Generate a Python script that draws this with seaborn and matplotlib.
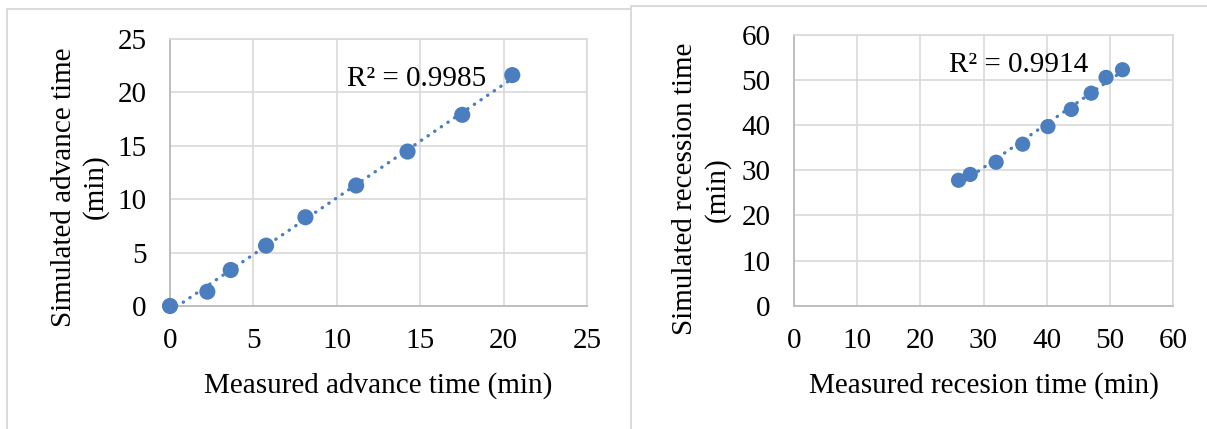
import numpy as np
import matplotlib
matplotlib.use("Agg")
import matplotlib.pyplot as plt
from matplotlib.lines import Line2D
import seaborn as sns

# Advance phase (min)
advance_measured = [0.0, 2.24, 3.64, 5.76, 8.12, 11.16, 14.24, 17.52, 20.52]
advance_simulated = [0.0, 1.34, 3.37, 5.65, 8.31, 11.28, 14.46, 17.90, 21.62]
advance_r2_label = "R² = 0.9985"
advance_ticks = [0, 5, 10, 15, 20, 25]

# Recession phase (min)
recession_measured = [26.05, 27.9, 32.0, 36.2, 40.2, 43.9, 47.05, 49.4, 52.0]
recession_simulated = [27.8, 29.1, 31.8, 35.8, 39.7, 43.5, 47.1, 50.6, 52.3]
recession_r2_label = "R² = 0.9914"
recession_ticks = [0, 10, 20, 30, 40, 50, 60]

sns.set_theme(style="white")
plt.rcParams["font.family"] = ["Liberation Serif", "DejaVu Serif"]

W, H = 1207, 429
fig = plt.figure(figsize=(W / 100, H / 100), dpi=100)
fig.patch.set_facecolor("white")

BLUE = "#4A7EBF"
GRID = "#D9D9D9"
AXIS = "#BFBFBF"
FS = 21


def px_axes(x0, y0, x1, y1):
    """Axes rectangle from pixel corners (top-left origin)."""
    return fig.add_axes([x0 / W, 1 - y1 / H, (x1 - x0) / W, (y1 - y0) / H])


def style_panel(ax, ticks, xlabel, ylabel, ylabel_xy):
    lim = (ticks[0], ticks[-1])
    ax.set_xlim(*lim)
    ax.set_ylim(*lim)
    ax.set_xticks(ticks)
    ax.set_yticks(ticks)
    ax.grid(True, color=GRID, linewidth=1.2)
    ax.set_axisbelow(True)
    for side in ("top", "right"):
        ax.spines[side].set_color(GRID)
        ax.spines[side].set_linewidth(1.2)
    for side in ("left", "bottom"):
        ax.spines[side].set_color(AXIS)
        ax.spines[side].set_linewidth(1.4)
    ax.tick_params(axis="both", length=0, labelsize=FS, colors="black")
    ax.tick_params(axis="x", pad=16)
    ax.tick_params(axis="y", pad=17)
    ax.set_xlabel(xlabel, fontsize=FS, color="black", labelpad=13)
    ax.set_ylabel(ylabel, fontsize=FS, color="black", linespacing=1.25)
    ax.yaxis.set_label_coords(*ylabel_xy)


def draw(ax, x, y, msize):
    sns.regplot(
        x=np.asarray(x), y=np.asarray(y), ax=ax, ci=None, truncate=True,
        scatter_kws=dict(s=msize, color=BLUE, edgecolor="none", alpha=1,
                         zorder=3, clip_on=False),
        line_kws=dict(color=BLUE, linewidth=2.4,
                      linestyle=(0, (0.1, 2.3)), dash_capstyle="round",
                      zorder=4),
    )


# Left panel: advance time
ax1 = px_axes(170, 39, 587, 306)
draw(ax1, advance_measured, advance_simulated, 135)
style_panel(ax1, advance_ticks, "Measured advance time (min)",
            "Simulated advance time\n(min)", (-0.146, 0.446))
ax1.text(10.6, 21.3, advance_r2_label, fontsize=FS, va="center", ha="left",
         color="black")

# Right panel: recession time
ax2 = px_axes(794, 35, 1173, 305.7)
draw(ax2, recession_measured, recession_simulated, 120)
style_panel(ax2, recession_ticks, "Measured recesion time (min)",
            "Simulated recession time\n(min)", (-0.168, 0.43))
ax2.text(24.6, 53.4, recession_r2_label, fontsize=FS, va="center",
         ha="left", color="black")


# Chart-area borders around each panel
def border(xs, ys):
    fig.add_artist(Line2D([x / W for x in xs], [1 - y / H for y in ys],
                          color=GRID, linewidth=1.4,
                          transform=fig.transFigure))


border([6.5, 6.5, 631], [H + 2, 9, 9])
border([631, 631, W + 2], [H + 2, 5.5, 5.5])

fig.savefig("out.png", dpi=100, facecolor="white")
